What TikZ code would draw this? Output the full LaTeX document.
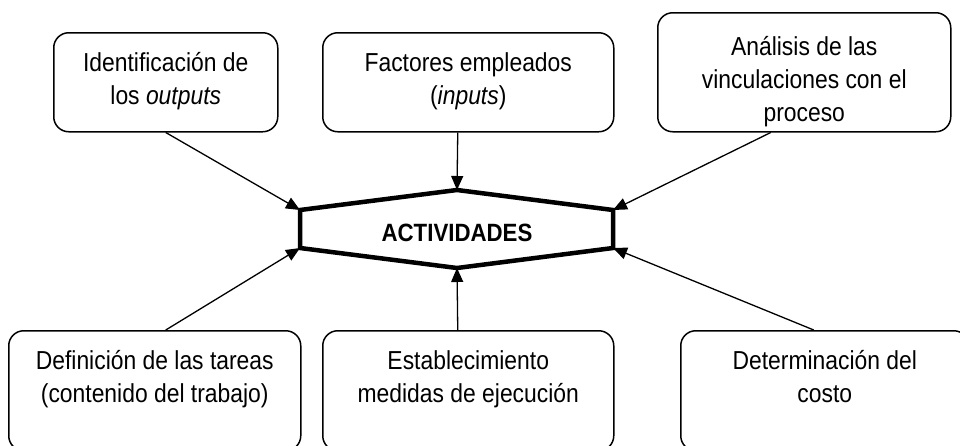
\documentclass[tikz,border=0pt]{standalone}
\usepackage{fontspec}
\setmainfont{Liberation Sans}[FakeStretch=0.88, BoldFeatures={FakeStretch=0.89}]
\usetikzlibrary{arrows.meta}
\tikzset{
  boxnode/.style={draw, line width=1.5pt, rounded corners=15pt, inner sep=0pt, anchor=north west},
  arr/.style={line width=1.3pt, -{Triangle[length=14pt,width=12pt]}},
  hexline/.style={line width=4.5pt, line join=miter},
}
\newcommand{\bt}[4]{\parbox[c][#2][t]{#1}{\centering\fontsize{26pt}{33pt}\selectfont\vspace*{#3}\rule{0pt}{27pt}#4\par}}
\begin{document}
\begin{tikzpicture}[x=1pt,y=-1pt]
\clip (0,0) rectangle (960,445);
\fill[white] (0,0) rectangle (960,445);
% top boxes
\node[boxnode] (b1) at (53,32) {\bt{224pt}{99pt}{11.7pt}{Identificación de\\los \textit{outputs}}};
\node[boxnode] (b2) at (322,32) {\bt{291pt}{99pt}{11.7pt}{Factores empleados\\(\textit{inputs})}};
\node[boxnode] (b3) at (657,12) {\bt{293pt}{119pt}{16pt}{Análisis de las\\vinculaciones con el\\proceso}};
% bottom boxes
\node[boxnode] (b4) at (8,330) {\bt{292pt}{120pt}{12pt}{Definición de las tareas\\(contenido del trabajo)}};
\node[boxnode] (b5) at (322,330) {\bt{291pt}{120pt}{12pt}{Establecimiento\\medidas de ejecución}};
\node[boxnode] (b6) at (680,330) {\bt{288pt}{120pt}{12pt}{Determinación del\\costo}};
% hexagon
\coordinate (h1) at (300,210);
\coordinate (h2) at (457,190);
\coordinate (h3) at (613,210);
\coordinate (h4) at (613,248);
\coordinate (h5) at (457,268);
\coordinate (h6) at (300,248);
\draw[hexline] (h1) -- (h2) -- (h3) -- (h4) -- (h5) -- (h6) -- cycle;
\node[anchor=base, inner sep=0pt] (act) at (457,241) {\fontsize{25pt}{30pt}\selectfont\bfseries ACTIVIDADES};
% arrows
\draw[arr] (b1.south) -- (h1);
\draw[arr] ([xshift=-10.5pt]b2.south) -- (h2);
\draw[arr] ([xshift=-33.5pt]b3.south) -- (h3);
\draw[arr] ([xshift=11pt]b4.north) -- (h6);
\draw[arr] ([xshift=-10.5pt]b5.north) -- (h5);
\draw[arr] ([xshift=-11pt]b6.north) -- (h4);
\end{tikzpicture}
\end{document}
